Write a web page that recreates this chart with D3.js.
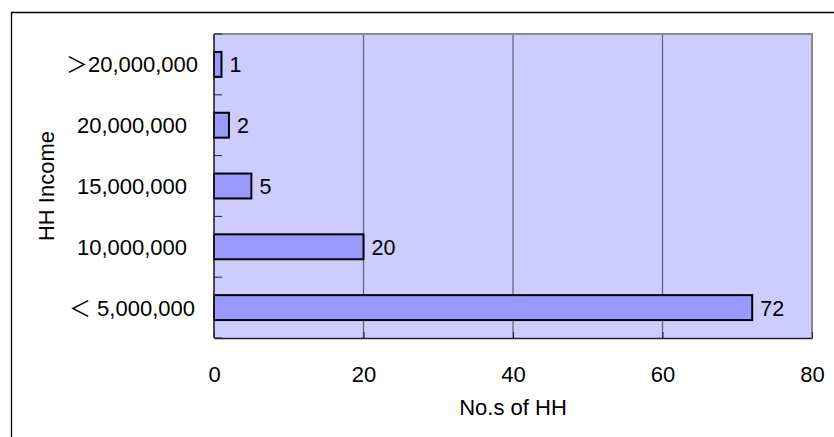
<!DOCTYPE html>
<html>
<head>
<meta charset="utf-8">
<script src="https://cdnjs.cloudflare.com/ajax/libs/d3/7.8.5/d3.min.js"></script>
<style>
  html, body { margin: 0; padding: 0; background: #fff; }
  svg { display: block; }
  text { font-family: "Liberation Sans", Arial, "Noto Sans CJK JP", sans-serif; fill: #000; }
</style>
</head>
<body>
<div class="canvasView"></div>
<script>
// categories top to bottom, and number of households
var categories = ['＞20,000,000', '20,000,000', '15,000,000', '10,000,000', '＜ 5,000,000'];
var households = [1, 2, 5, 20, 72];
var xTicks = [0, 20, 40, 60, 80];

var width = 834, height = 437;
var plot = { left: 214, right: 812, top: 34, bottom: 338 };

var svg = d3.select('.canvasView').append('svg')
  .attr('width', width)
  .attr('height', height);

// outer chart frame (right and bottom fall outside the picture)
svg.append('path')
  .attr('d', 'M11.5,' + (height + 5) + 'V12.5H' + (width + 5))
  .attr('fill', 'none')
  .attr('stroke', '#000')
  .attr('stroke-width', 1.3);

var x = d3.scaleLinear().domain([0, 80]).range([plot.left, plot.right]);
var y = d3.scaleBand().domain(categories)
  .range([plot.top, plot.bottom])
  .paddingInner(0.59)
  .paddingOuter(0.295);

// plot area background
svg.append('rect')
  .attr('x', plot.left)
  .attr('y', plot.top)
  .attr('width', plot.right - plot.left)
  .attr('height', plot.bottom - plot.top)
  .attr('fill', '#ccccff');

// vertical gridlines
svg.selectAll('line.grid')
  .data(xTicks.slice(1, -1))
  .enter()
  .append('line')
  .attr('class', 'grid')
  .attr('x1', function(d) { return x(d); })
  .attr('x2', function(d) { return x(d); })
  .attr('y1', plot.top)
  .attr('y2', plot.bottom)
  .attr('stroke', '#5f5f78')
  .attr('stroke-width', 1.2);

// gray border on top and right
svg.append('path')
  .attr('d', 'M' + plot.left + ',' + plot.top + 'H' + plot.right + 'V' + plot.bottom)
  .attr('fill', 'none')
  .attr('stroke', '#8a8a8a')
  .attr('stroke-width', 2);

// bars
svg.selectAll('rect.bar')
  .data(households)
  .enter()
  .append('rect')
  .attr('class', 'bar')
  .attr('x', x(0))
  .attr('y', function(d, i) { return y(categories[i]); })
  .attr('width', function(d) { return x(d) - x(0); })
  .attr('height', y.bandwidth())
  .attr('fill', '#9999ff')
  .attr('stroke', '#000')
  .attr('stroke-width', 2);

// value labels
svg.selectAll('text.value')
  .data(households)
  .enter()
  .append('text')
  .attr('class', 'value')
  .attr('x', function(d) { return x(d) + 8; })
  .attr('y', function(d, i) { return y(categories[i]) + y.bandwidth() / 2 + 8; })
  .attr('font-size', 21.5)
  .text(function(d) { return d; });

// x axis, ticks pointing into the plot
var xAxis = svg.append('g')
  .attr('transform', 'translate(0,' + plot.bottom + ')')
  .call(d3.axisBottom(x).tickValues(xTicks).tickSizeInner(-6).tickSizeOuter(0).tickPadding(28));
xAxis.select('.domain').attr('stroke', '#222').attr('stroke-width', 1.6);
xAxis.selectAll('.tick line').attr('stroke', '#222');
xAxis.selectAll('.tick text')
  .attr('font-size', 22)
  .attr('font-family', '"Liberation Sans", Arial, sans-serif');

// y axis line with inward ticks at category boundaries
var bounds = d3.range(categories.length + 1).map(function(i) { return plot.top + i * y.step(); });
svg.append('line')
  .attr('x1', plot.left).attr('x2', plot.left)
  .attr('y1', plot.top).attr('y2', plot.bottom)
  .attr('stroke', '#222')
  .attr('stroke-width', 1.6);
svg.selectAll('line.ytick')
  .data(bounds)
  .enter()
  .append('line')
  .attr('class', 'ytick')
  .attr('x1', plot.left).attr('x2', plot.left + 8)
  .attr('y1', function(d) { return d; })
  .attr('y2', function(d) { return d; })
  .attr('stroke', '#222');

// category labels, centred in their column like the original
svg.selectAll('text.cat')
  .data(categories)
  .enter()
  .append('text')
  .attr('class', 'cat')
  .attr('x', 132)
  .attr('y', function(d) { return y(d) + y.bandwidth() / 2 + 8; })
  .attr('text-anchor', 'middle')
  .attr('font-size', 22)
  .text(function(d) { return d; });

// axis titles
svg.append('text')
  .attr('x', (plot.left + plot.right) / 2)
  .attr('y', 415)
  .attr('text-anchor', 'middle')
  .attr('font-size', 22)
  .text('No.s of HH');

svg.append('text')
  .attr('transform', 'translate(54,' + ((plot.top + plot.bottom) / 2) + ') rotate(-90)')
  .attr('text-anchor', 'middle')
  .attr('font-size', 22)
  .text('HH Income');
</script>
</body>
</html>
